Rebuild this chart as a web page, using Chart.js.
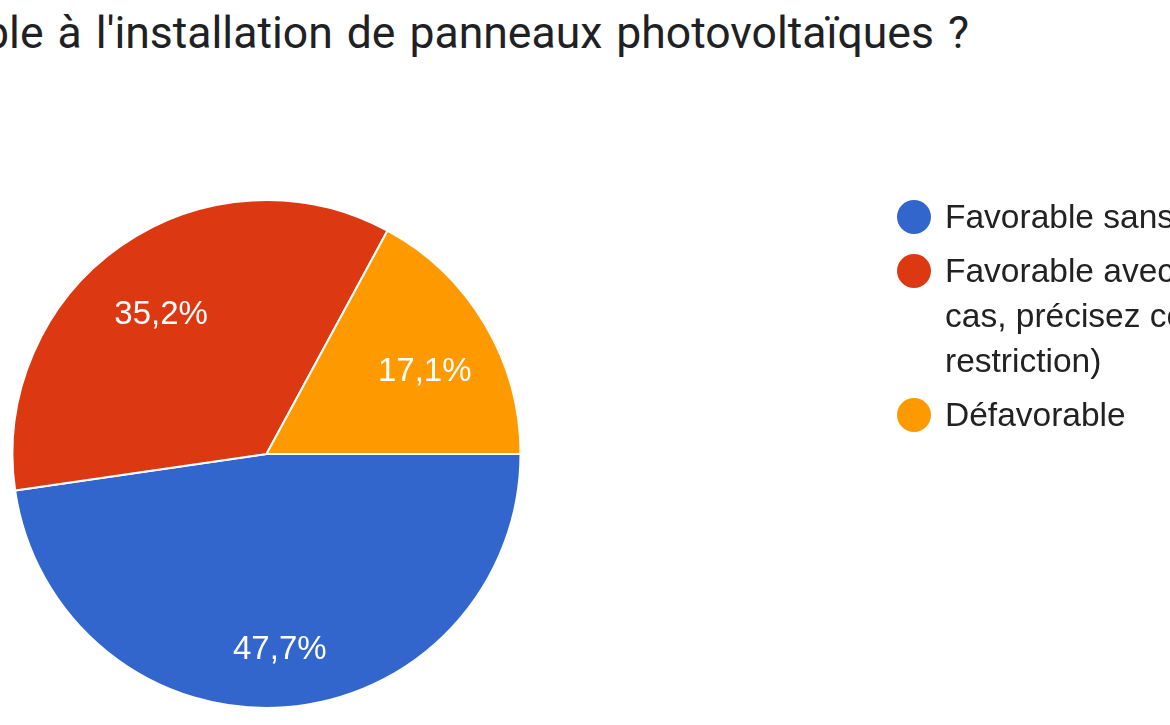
<!DOCTYPE html>
<html>
<head>
<meta charset="utf-8">
<script src="https://cdn.jsdelivr.net/npm/chart.js@4/dist/chart.umd.min.js"></script>
<style>
  html, body { margin: 0; padding: 0; background: #ffffff; }
  body { width: 1170px; height: 725px; overflow: hidden; position: relative; font-family: Roboto, "Noto Sans", sans-serif; }
  #title { position: absolute; right: 201px; top: 7px; font-size: 44.5px; line-height: 52px; color: #202124; white-space: nowrap; word-spacing: 3px; }
  #chartWrap { position: absolute; left: 0; top: 0; width: 1170px; height: 725px; }
  #legend { position: absolute; left: 897px; top: 194px; width: 600px; }
  .item { display: flex; align-items: flex-start; margin-bottom: 9px; }
  .dot { width: 34px; height: 34px; border-radius: 50%; flex: 0 0 34px; margin-top: 6px; margin-right: 14px; }
  .txt { font-family: "Liberation Sans", Arial, sans-serif; font-size: 33.5px; line-height: 45px; color: #222222; white-space: pre; }
</style>
</head>
<body>
<div id="title"></div>
<div id="chartWrap"><canvas id="c"></canvas></div>
<div id="legend"></div>
<script>
const titleText = "Êtes-vous favorable à l'installation de panneaux photovoltaïques ?";
const categories = [
  "Favorable sans restriction",
  "Favorable avec restriction (dans ce cas, précisez cette restriction)",
  "Défavorable"
];
const legendLines = [
  ["Favorable sans restriction"],
  ["Favorable avec restriction (dans ce", "cas, précisez cette", "restriction)"],
  ["Défavorable"]
];
const values = [47.7, 35.2, 17.1];
const valueLabels = ["47,7%", "35,2%", "17,1%"];
const colors = ["#3366cc", "#dc3912", "#ff9900"];

document.getElementById('title').textContent = titleText;

const legend = document.getElementById('legend');
categories.forEach((c, i) => {
  const it = document.createElement('div');
  it.className = 'item';
  const d = document.createElement('div');
  d.className = 'dot';
  d.style.background = colors[i];
  const t = document.createElement('div');
  t.className = 'txt';
  t.textContent = legendLines[i].join('\n');
  it.appendChild(d); it.appendChild(t);
  legend.appendChild(it);
});

const sliceLabels = {
  id: 'sliceLabels',
  afterDatasetsDraw(chart) {
    const ctx = chart.ctx;
    const meta = chart.getDatasetMeta(0);
    ctx.save();
    ctx.fillStyle = '#ffffff';
    ctx.font = '33px "Liberation Sans", Arial, sans-serif';
    ctx.textAlign = 'center';
    ctx.textBaseline = 'middle';
    meta.data.forEach((arc, i) => {
      const p = arc.getProps(['x', 'y', 'startAngle', 'endAngle', 'outerRadius'], true);
      const mid = (p.startAngle + p.endAngle) / 2;
      const r = p.outerRadius * 0.725;
      ctx.fillText(valueLabels[i], p.x + Math.cos(mid) * r, p.y + Math.sin(mid) * r + 12);
    });
    ctx.restore();
  }
};

new Chart(document.getElementById('c'), {
  type: 'pie',
  data: {
    labels: categories,
    datasets: [{
      data: values,
      backgroundColor: colors,
      borderColor: '#ffffff',
      borderWidth: 2
    }]
  },
  options: {
    responsive: true,
    maintainAspectRatio: false,
    animation: false,
    rotation: 90,
    layout: { padding: { left: 11, top: 199, right: 648, bottom: 16 } },
    plugins: {
      legend: { display: false },
      title: { display: false },
      tooltip: { enabled: false }
    }
  },
  plugins: [sliceLabels]
});
</script>
</body>
</html>
